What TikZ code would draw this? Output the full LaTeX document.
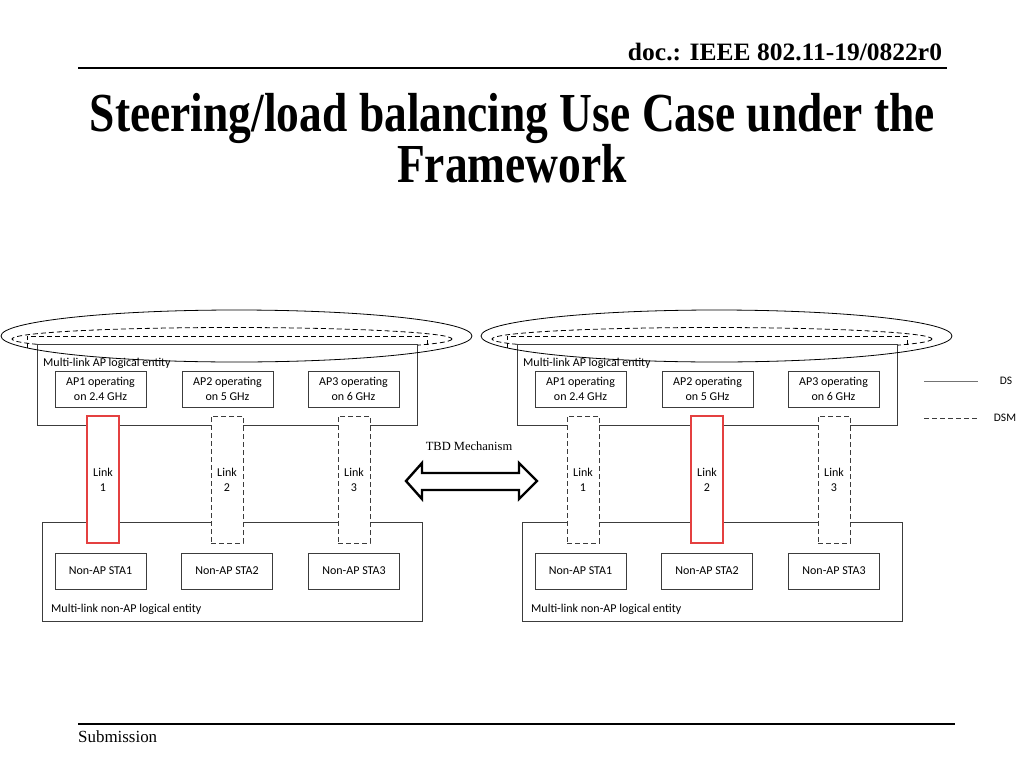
\documentclass[tikz,border=0pt]{standalone}
\usepackage{fontspec}
\usepackage{graphicx}
\setmainfont{Liberation Serif}
\newfontfamily\carl{Carlito}
\definecolor{linkred}{RGB}{228,64,64}
\definecolor{boxline}{RGB}{60,60,60}
\begin{document}
\begin{tikzpicture}[x=1pt,y=-1pt,
  bigbox/.style={draw=boxline, fill=white, line width=0.8pt, inner sep=0pt},
  box/.style={draw=boxline, fill=white, line width=0.8pt, inner sep=0pt, align=center,
    font=\carl\fontsize{12}{15}\selectfont},
  linkd/.style={box, dash pattern=on 5pt off 3pt},
  linkr/.style={box, draw=linkred, line width=1.1pt},
  lbl/.style={inner sep=0pt, font=\carl\fontsize{12}{15}\selectfont},
  dsmline/.style={dash pattern=on 5pt off 3pt, line width=0.8pt},
  dbarrow/.style={draw=black, fill=white, line width=2.4pt, line join=miter}
]
\useasboundingbox (0,0) rectangle (1024,768);

% header / footer
\node[anchor=base, inner sep=0pt, font=\bfseries\fontsize{25}{28}\selectfont] (hdr) at (785,61)
  {\resizebox{314pt}{\height}{doc.: IEEE 802.11-19/0822r0}};
\draw[line width=1.3pt] (78,68) coordinate (tl) -- (947,68) coordinate (tr);
\node[anchor=base, inner sep=0pt, font=\bfseries\fontsize{55}{60}\selectfont] (t1) at (512.5,131)
  {\resizebox{845pt}{\height}{Steering/load balancing Use Case under the}};
\node[anchor=base, inner sep=0pt, font=\bfseries\fontsize{55}{60}\selectfont] (t2) at (512,182)
  {\resizebox{230pt}{\height}{Framework}};
\draw[line width=1.3pt] (78,724) coordinate (bl) -- (955,724) coordinate (br);
\node[anchor=base west, inner sep=0pt, font=\fontsize{17}{20}\selectfont] (sub) at (78,742)
  {\resizebox{79pt}{\height}{Submission}};

% two groups
\foreach \dx/\g/\ra/\rb in {0/L/linkr/linkd, 480/R/linkd/linkr}{
  \begin{scope}[xshift=\dx]
    \draw[dsmline] (232,339) ellipse [x radius=220, y radius=11.5];
    \draw[dsmline] (27,348) -- (27,336) -- (427,336) -- (427,348);
    \node[bigbox, minimum width=380pt, minimum height=81pt] (ap\g) at (227,384.5) {};
    \node[bigbox, minimum width=380pt, minimum height=99pt] (sta\g) at (232,571.5) {};
    \node[lbl, anchor=base west] (apl\g) at (43,366) {Multi-link AP logical entity};
    \node[lbl, anchor=base west] (stal\g) at (51,612) {Multi-link non-AP logical entity};
    \node[box, minimum width=91pt, minimum height=36pt] (ap1\g) at (100.5,389) {AP1 operating\\on 2.4 GHz};
    \node[box, minimum width=91pt, minimum height=36pt] (ap2\g) at (227.5,389) {AP2 operating\\on 5 GHz};
    \node[box, minimum width=91pt, minimum height=36pt] (ap3\g) at (353.5,389) {AP3 operating\\on 6 GHz};
    \node[box, minimum width=91pt, minimum height=36pt] (s1\g) at (100.5,571) {Non-AP STA1};
    \node[box, minimum width=91pt, minimum height=36pt] (s2\g) at (227,571) {Non-AP STA2};
    \node[box, minimum width=91pt, minimum height=36pt] (s3\g) at (354,571) {Non-AP STA3};
    \node[\ra, minimum width=32pt, minimum height=127pt] (l1\g) at (103,479.5) {Link\\1};
    \node[\rb, minimum width=32pt, minimum height=127pt] (l2\g) at (227,479.5) {Link\\2};
    \node[linkd, minimum width=32pt, minimum height=127pt] (l3\g) at (354,479.5) {Link\\3};
    \draw[line width=0.8pt] (236.5,336) ellipse [x radius=235.5, y radius=26];
  \end{scope}
}

% TBD mechanism
\node[inner sep=0pt, font=\fontsize{12.5}{15}\selectfont] (tbd) at (469,446) {TBD Mechanism};
\draw[dbarrow] (406,481) -- (422,463) -- (422,473) -- (519,473) -- (519,463) -- (537,481)
  -- (519,499) -- (519,490) -- (422,490) -- (422,499) -- cycle;

% legend
\draw[line width=1pt, draw=black!55] (924,381) coordinate (ds1) -- (978,381) coordinate (ds2);
\node[lbl, font=\carl\fontsize{11.5}{13}\selectfont] (dsl) at (1006,381) {DS};
\draw[dsmline, draw=boxline] (924,418) coordinate (dm1) -- (978,418) coordinate (dm2);
\node[lbl, font=\carl\fontsize{11.5}{13}\selectfont] (dsml) at (1005,418) {DSM};
\end{tikzpicture}
\end{document}
